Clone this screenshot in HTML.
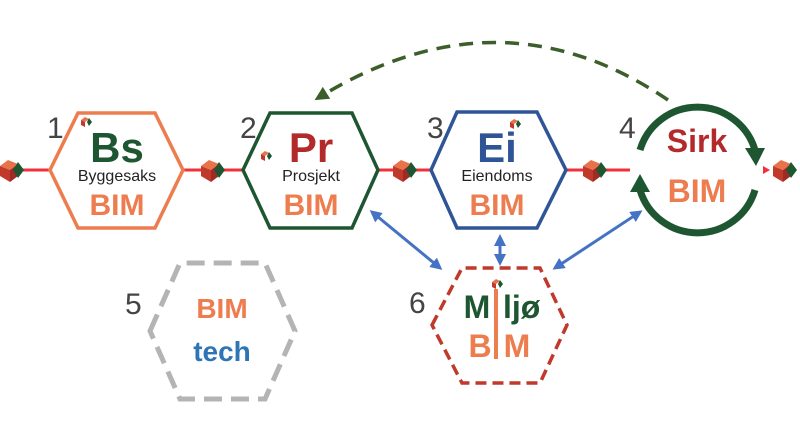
<!DOCTYPE html>
<html><head><style>
body{margin:0;background:#fff}
svg text{font-family:"Liberation Sans",sans-serif}
</style></head><body>
<svg width="800" height="421" viewBox="0 0 800 421" xmlns="http://www.w3.org/2000/svg">
<defs>
<g id="cube">
<polygon points="-12,-4 -4,-10 6,-6 -2,0" fill="#e8734a"/>
<polygon points="-12,-4 -2,0 -2,12 -12,6" fill="#c0392b"/>
<polygon points="-2,0 6,-6 6,6 -2,12" fill="#a02a24"/>
<polygon points="6,-8 12,0 6,8 1,0" fill="#1e5631"/>
</g>
<g id="mini">
<polygon points="-5,-2 -1,-5 3,-3 -1,0" fill="#e8734a"/>
<polygon points="-5,-2 -1,0 -1,5 -5,3" fill="#c0392b"/>
<polygon points="3,-4 6,0 3,4 1,0" fill="#1e5631"/>
</g>
<marker id="bh" markerWidth="12" markerHeight="12" refX="9" refY="6" orient="auto-start-reverse" markerUnits="userSpaceOnUse"><path d="M0,0 L12,6 L0,12 Z" fill="#4472c4"/></marker>
<marker id="gh" markerWidth="14" markerHeight="14" refX="10" refY="7" orient="auto" markerUnits="userSpaceOnUse"><path d="M0,0 L14,7 L0,14 Z" fill="#3b5e2b"/></marker>
</defs>
<g stroke="#f0303a" stroke-width="3">
<line x1="22" y1="170" x2="50" y2="170"/>
<line x1="183" y1="170" x2="205" y2="170"/>
<line x1="222" y1="170" x2="243" y2="170"/>
<line x1="378" y1="170" x2="397" y2="170"/>
<line x1="414" y1="170" x2="431" y2="170"/>
<line x1="566" y1="170" x2="587" y2="170"/>
<line x1="604" y1="170" x2="630" y2="170"/>
</g>
<polygon points="763,166 770,170 763,174" fill="#f0303a"/>
<use href="#cube" x="12" y="170"/>
<use href="#cube" x="213" y="170"/>
<use href="#cube" x="405" y="170"/>
<use href="#cube" x="595" y="170"/>
<use href="#cube" x="785" y="170"/>
<polygon points="50,170 78,113 155,113 183,170 155,228 78,228" fill="none" stroke="#ed7d4f" stroke-width="3.5"/>
<polygon points="243,170 270,113 352,113 378,170 352,228 270,228" fill="none" stroke="#1e5631" stroke-width="3.5"/>
<polygon points="431,170 457,112 537,112 566,170 537,228 457,228" fill="none" stroke="#2f5597" stroke-width="3.5"/>
<polygon points="150,331 180,263 265,263 295,331 265,399 180,399" fill="none" stroke="#b4b4b4" stroke-width="5" stroke-dasharray="18,9"/>
<polygon points="432,325 462,268 540,268 567,325 540,383 462,383" fill="none" stroke="#c0392b" stroke-width="3.5" stroke-dasharray="11,6"/>
<path d="M 640,150 A 60,60 0 0 1 755,150" fill="none" stroke="#1e5631" stroke-width="7"/>
<polygon points="745,148 765,148 756,166" fill="#1e5631"/>
<path d="M 755,190 A 60,60 0 0 1 640,190" fill="none" stroke="#1e5631" stroke-width="7"/>
<polygon points="630,192 650,192 640,174" fill="#1e5631"/>
<path d="M 668,100 Q 500,-14 318,98" fill="none" stroke="#3b5e2b" stroke-width="3.5" stroke-dasharray="14,9" marker-end="url(#gh)"/>
<g stroke="#4472c4" stroke-width="3" marker-start="url(#bh)" marker-end="url(#bh)">
<line x1="372" y1="212" x2="440" y2="268"/>
<line x1="500" y1="237" x2="500" y2="263"/>
<line x1="555" y1="268" x2="640" y2="212"/>
</g>
<g fill="#444" font-size="30">
<text x="47" y="138">1</text>
<text x="240" y="138">2</text>
<text x="427" y="138">3</text>
<text x="619" y="138">4</text>
<text x="125" y="314">5</text>
<text x="409" y="313">6</text>
</g>
<use href="#mini" x="86" y="122"/>
<use href="#mini" x="266" y="156"/>
<use href="#mini" x="515" y="124"/>
<use href="#mini" x="497" y="284"/>
<g text-anchor="middle" font-weight="bold">
<text x="117" y="162" font-size="42" fill="#1e5631">Bs</text>
<text x="117" y="215" font-size="30" fill="#ed7d4f">BIM</text>
<text x="311" y="162" font-size="42" fill="#b22a2a">Pr</text>
<text x="311" y="215" font-size="30" fill="#ed7d4f">BIM</text>
<text x="497" y="162" font-size="42" fill="#2f5597">Ei</text>
<text x="497" y="215" font-size="30" fill="#ed7d4f">BIM</text>
<text x="697" y="152" font-size="32" fill="#b22a2a">Sirk</text>
<text x="697" y="202" font-size="32" fill="#ed7d4f">BIM</text>
<text x="222" y="318" font-size="28" fill="#ed7d4f">BIM</text>
<text x="222" y="361" font-size="28" fill="#2e75b6">tech</text>
</g>
<g font-weight="bold" font-size="32">
<text x="477" y="318" text-anchor="middle" fill="#1e5631">M</text>
<text x="503" y="318" fill="#1e5631">ljø</text>
<text x="480" y="357" text-anchor="middle" fill="#ed7d4f">B</text>
<text x="517" y="357" text-anchor="middle" fill="#ed7d4f">M</text>
</g>
<rect x="494" y="289" width="4" height="70" fill="#ed7d4f"/>
<g text-anchor="middle" font-size="16" fill="#222">
<text x="117" y="181">Byggesaks</text>
<text x="311" y="181">Prosjekt</text>
<text x="497" y="181">Eiendoms</text>
</g>
</svg>
</body></html>
